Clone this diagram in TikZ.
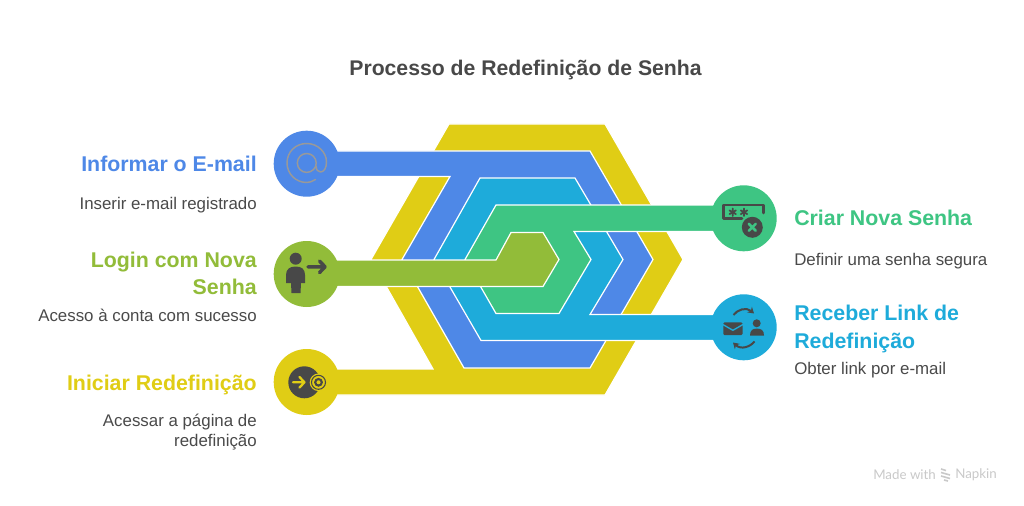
\documentclass[tikz,border=0pt]{standalone}
\usepackage{fontspec}
\setmainfont{Liberation Sans}
\newfontfamily\wmfont{Lato}
\usetikzlibrary{arrows.meta}
\definecolor{cyel}{HTML}{E0CD15}
\definecolor{cblu}{HTML}{4E88E7}
\definecolor{ccya}{HTML}{1EABDA}
\definecolor{cgre}{HTML}{3EC583}
\definecolor{coli}{HTML}{92BC39}
\definecolor{cdark}{HTML}{484848}
\definecolor{cbody}{HTML}{4A4A4A}
\definecolor{cwm}{HTML}{C9C9C9}
\tikzset{
  band/.style={draw=white,line width=0.9pt,line join=miter},
  ttl/.style={font=\fontsize{15.9}{20}\selectfont\bfseries,text=cdark,inner sep=0pt},
  headL/.style={font=\fontsize{16}{20.6}\selectfont\bfseries,align=right,anchor=east,inner sep=0pt},
  headR/.style={font=\fontsize{16}{20.6}\selectfont\bfseries,align=left,anchor=west,inner sep=0pt},
  bodyL/.style={font=\fontsize{12.65}{15}\selectfont,text=cbody,align=right,anchor=east,inner sep=0pt},
  bodyR/.style={font=\fontsize{12.65}{15}\selectfont,text=cbody,align=left,anchor=west,inner sep=0pt},
  wm/.style={font=\wmfont\fontsize{10}{12}\selectfont,text=cwm,inner sep=0pt,anchor=west},
  ico/.style={draw=cdark,line cap=round,line join=round,line width=1.9pt},
}
\begin{document}
\begin{tikzpicture}[x=0.75pt,y=-0.75pt]
\useasboundingbox (0,0) rectangle (1024,506);
\fill[white] (0,0) rectangle (1024,506);

% bands
\fill[cyel,band] (306,369) -- (433,369) -- (371,259.5) -- (449,124) -- (605,124) -- (683,259.5) -- (605,395) -- (306,395) -- cycle;
\fill[cyel] (306.7,382) circle[radius=33];
\fill[cblu,band] (306,151) -- (590,151) -- (653,259.5) -- (590,368) -- (464,368) -- (402,259.5) -- (450,176.5) -- (306,176.5) -- cycle;
\fill[cblu] (306.7,163.7) circle[radius=33];
\fill[ccya,band] (480,178) -- (575,178) -- (623,259.5) -- (590,314.5) -- (745,314.5) -- (745,340.5) -- (481,340.5) -- (434,259.5) -- cycle;
\fill[ccya] (743.7,327.3) circle[radius=33];
\fill[cgre,band] (496,205) -- (745,205) -- (745,231.5) -- (574,231.5) -- (591,259.5) -- (559,313.5) -- (496,313.5) -- (465,259.5) -- cycle;
\fill[cgre] (743.7,218.3) circle[radius=33];
\fill[coli,band] (306,260) -- (496,260) -- (511,232.5) -- (543,232.5) -- (559,259.5) -- (543,286.5) -- (306,286.5) -- cycle;
\fill[coli] (306.7,274) circle[radius=33];

% at icon
\draw[color=black!40,line width=1.1pt,line cap=round,line join=round]
  (306.7,153.5) .. controls (301.5,153.5) and (297.3,157.7) .. (297.3,163)
  .. controls (297.3,168.2) and (301.5,172.4) .. (306.7,172.4)
  .. controls (312,172.4) and (316.2,168.2) .. (316.2,163)
  .. controls (316.2,157.7) and (312,153.5) .. (306.7,153.5) -- cycle
  (315.5,179.5) .. controls (312.5,181.5) and (309.5,182.5) .. (306.7,182.5)
  .. controls (295.5,182.5) and (287,173.5) .. (287,163)
  .. controls (287,152) and (295.5,143.5) .. (306.7,143.5)
  .. controls (317.5,143.5) and (326.5,152) .. (326.5,162)
  .. controls (326.5,168) and (324,172) .. (320.5,172)
  .. controls (317.5,172) and (316.2,169.5) .. (316.2,166);

% login icon
\fill[cdark] (295.7,258.7) circle[radius=6];
\fill[cdark] (286,283) -- (286,275) .. controls (286,269) and (290,266.5) .. (295.7,266.5)
  .. controls (301.5,266.5) and (305,269) .. (305,275) -- (305,283) -- (301,283) -- (300.5,293) -- (291.5,293) -- (291,283) -- cycle;
\draw[ico,line width=2.6pt] (308,266.8) -- (325,266.8) (319.5,261) -- (325,266.8) -- (319.5,272.6);

% start icon
\fill[cdark] (304.3,382.3) circle[radius=16];
\fill[cyel] (318.5,382.3) circle[radius=8.8];
\draw[cdark,line width=0.8pt] (318.5,382.3) circle[radius=7];
\draw[cdark,line width=1.6pt] (318.5,382.3) circle[radius=3.3];
\draw[cyel,line width=1.7pt,line cap=round,line join=round] (293,382.3) -- (304.5,382.3) (299.5,377) -- (304.5,382.3) -- (299.5,387.5);

% new password icon
\draw[ico] (763.3,213) -- (763.3,205) -- (723.3,205) -- (723.3,218.3) -- (742,218.3);
\draw[cdark,line width=1.3pt,line cap=round]
  (732.7,208.5) -- (732.7,216) (729.5,210.4) -- (735.9,214.1) (729.5,214.1) -- (735.9,210.4)
  (744,208.5) -- (744,216) (740.8,210.4) -- (747.2,214.1) (740.8,214.1) -- (747.2,210.4);
\fill[cdark] (752.3,227.3) circle[radius=10.5];
\draw[cgre,line width=1.9pt,line cap=round] (748.8,223.8) -- (755.8,230.8) (748.8,230.8) -- (755.8,223.8);

% reset link icon
\fill[cdark,rounded corners=1pt] (723.3,322.3) rectangle (742.5,335.2);
\draw[ccya,line width=1pt] (722.8,324.5) -- (732.9,330.3) -- (743,324.5);
\fill[cdark] (756.7,323.3) circle[radius=4];
\fill[cdark] (750,335.5) .. controls (750,330) and (753,328.6) .. (756.9,328.6) .. controls (761,328.6) and (764,330) .. (764,335.5) -- cycle;
\draw[cdark,line width=1.5pt,-{Stealth[length=4.5pt,width=5.5pt]}] (733.5,315) .. controls (737,310) and (746,306.5) .. (754,313.5);
\draw[cdark,line width=1.5pt,-{Stealth[length=4.5pt,width=5.5pt]}] (754.5,341.5) .. controls (750,347) and (741,350) .. (733,342.5);

% title
\node[ttl] (title) at (525.5,70) {Processo de Redefinição de Senha};

% left labels
\node[headL,text=cblu] (h1) at (257,164) {Informar o E-mail};
\node[bodyL] (b1) at (257,205.5) {Inserir e-mail registrado};
\node[headL,text=coli] (h2) at (257,273.5) {Login com Nova\\Senha};
\node[bodyL] (b2) at (257,315) {Acesso à conta com sucesso};
\node[headL,text=cyel] (h3) at (257,384.5) {Iniciar Redefinição};
\node[bodyL] (b3) at (257,432.5) {Acessar a página de\\redefinição};

% right labels
\node[headR,text=cgre] (h4) at (794,218) {Criar Nova Senha};
\node[bodyR] (b4) at (794,261.5) {Definir uma senha segura};
\node[headR,text=ccya] (h5) at (794,329) {Receber Link de\\Redefinição};
\node[bodyR] (b5) at (794,370) {Obter link por e-mail};

% watermark
\node[wm] (w1) at (873,475) {Made with};
\node[wm] (w2) at (955,475) {Napkin};
\draw[cwm,line width=1.2pt] (941,469) -- (946,470.5) (941,472.5) -- (950,475) (941,476) -- (950,478.5) (944,480) -- (948,481);
\end{tikzpicture}
\end{document}
